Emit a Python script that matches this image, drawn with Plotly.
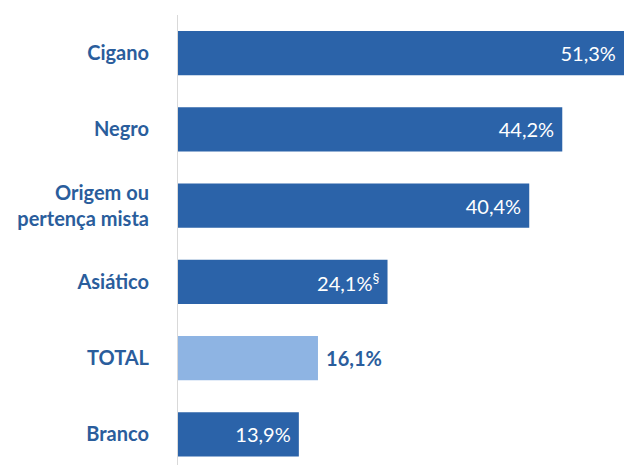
import plotly.graph_objects as go

categories = ["Cigano", "Negro", "Origem ou<br>pertença mista", "Asiático", "TOTAL", "Branco"]
values = [51.3, 44.2, 40.4, 24.1, 16.1, 13.9]
labels = ["51,3%", "44,2%", "40,4%", "24,1%<sup>§</sup>", "<b>16,1%</b>", "13,9%"]

DARK = "#2B63A9"
LIGHT = "#8EB4E3"
TXT = "#2A5D9C"

colors = [LIGHT if c == "TOTAL" else DARK for c in categories]
positions = ["outside" if c == "TOTAL" else "inside" for c in categories]
tcolors = [TXT if c == "TOTAL" else "white" for c in categories]
texts = ["\u00a0" + t if c == "TOTAL" else t + "\u00a0" for t, c in zip(labels, categories)]

fig = go.Figure(go.Bar(
    x=values, y=categories, orientation="h",
    marker=dict(color=colors, line=dict(width=0)),
    text=texts, textposition=positions, insidetextanchor="end",
    textfont=dict(color=tcolors, size=20, family="Lato"),
    cliponaxis=False, width=0.58,
))

fig.update_layout(
    width=624, height=465,
    margin=dict(l=178, r=0, t=15, b=0, autoexpand=False),
    paper_bgcolor="white", plot_bgcolor="white",
    showlegend=False,
    font=dict(family="Lato"),
)
fig.update_xaxes(range=[0, 51.3], visible=False, showgrid=False, zeroline=False, automargin=False)
fig.update_yaxes(
    range=[5.4, -0.5], showgrid=False, zeroline=False, automargin=False,
    showline=True, linecolor="#D9D9D9", linewidth=1,
    ticks="", ticklabelstandoff=24,
    tickfont=dict(family="Lato", size=20, color=TXT, weight="bold"),
)

fig.write_html("out.html", config={"displayModeBar": False},
               post_script="document.body.style.margin='0';")
